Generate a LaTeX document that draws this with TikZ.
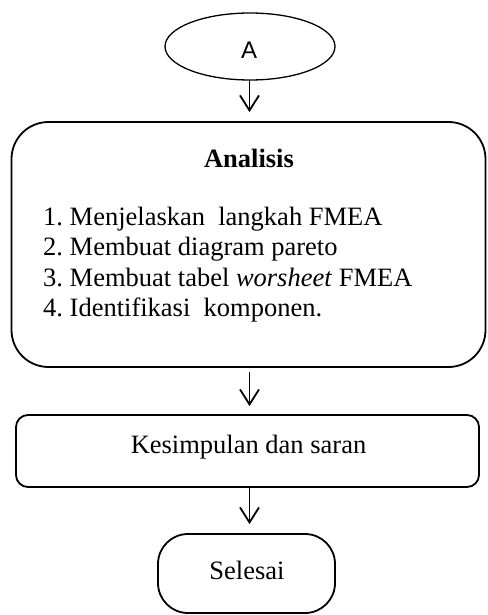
\documentclass[tikz,border=0pt]{standalone}
\usepackage{fontspec}
\setmainfont{Liberation Serif}
\newfontfamily\sansA{Liberation Sans}
\usetikzlibrary{arrows.meta,shapes.geometric}
\frenchspacing
\begin{document}
\begin{tikzpicture}[x=1pt,y=-1pt,
  boxline/.style={draw,line width=1.8pt,inner sep=0pt},
  flowarrow/.style={-{Straight Barb[length=15pt,width=19pt]},line width=1.8pt},
  txt/.style={inner sep=0pt,font=\fontsize{26.5}{30.5}\selectfont}]
\useasboundingbox (0,0) rectangle (487,615);
% shapes
\node[ellipse,draw,line width=1.3pt,minimum width=170pt,minimum height=67pt,inner sep=0pt] (A) at (250,46.5) {};
\node[boxline,rectangle,rounded corners=37pt,minimum width=474pt,minimum height=245pt] (ana) at (248.5,244.5) {};
\node[boxline,rectangle,rounded corners=12pt,minimum width=463pt,minimum height=72pt] (kes) at (247.5,451) {};
\node[boxline,rectangle,rounded corners=30pt,minimum width=177pt,minimum height=79pt] (sel) at (246.5,573.5) {};
% texts
\node[inner sep=0pt,anchor=base,font=\sansA\fontsize{24}{28}\selectfont] (tA) at (249,59) {A};
\node[txt,anchor=base] (tana) at (249,167) {\textbf{Analisis}};
\node[txt,anchor=base west] (l1) at (43,225) {1. Menjelaskan\ \ langkah FMEA};
\node[txt,anchor=base west] (l2) at (43,255.5) {2. Membuat diagram pareto};
\node[txt,anchor=base west] (l3) at (43,286) {3. Membuat tabel \textit{worsheet} FMEA};
\node[txt,anchor=base west] (l4) at (43,316.5) {4. Identifikasi\ \ komponen.};
\node[txt,anchor=base] (tkes) at (248.5,453) {Kesimpulan dan saran};
\node[txt,anchor=base] (tsel) at (247,579) {Selesai};
% connectors
\coordinate (a1) at (249.5,80);
\coordinate (a2) at (249.5,372);
\coordinate (a3) at (249.5,488);
\draw[flowarrow,shorten >=9pt] (a1) -- (a1 |- ana.north);
\draw[flowarrow,shorten >=8pt] (a2) -- (a2 |- kes.north);
\draw[flowarrow,shorten >=9pt] (a3) -- (a3 |- sel.north);
\end{tikzpicture}
\end{document}
